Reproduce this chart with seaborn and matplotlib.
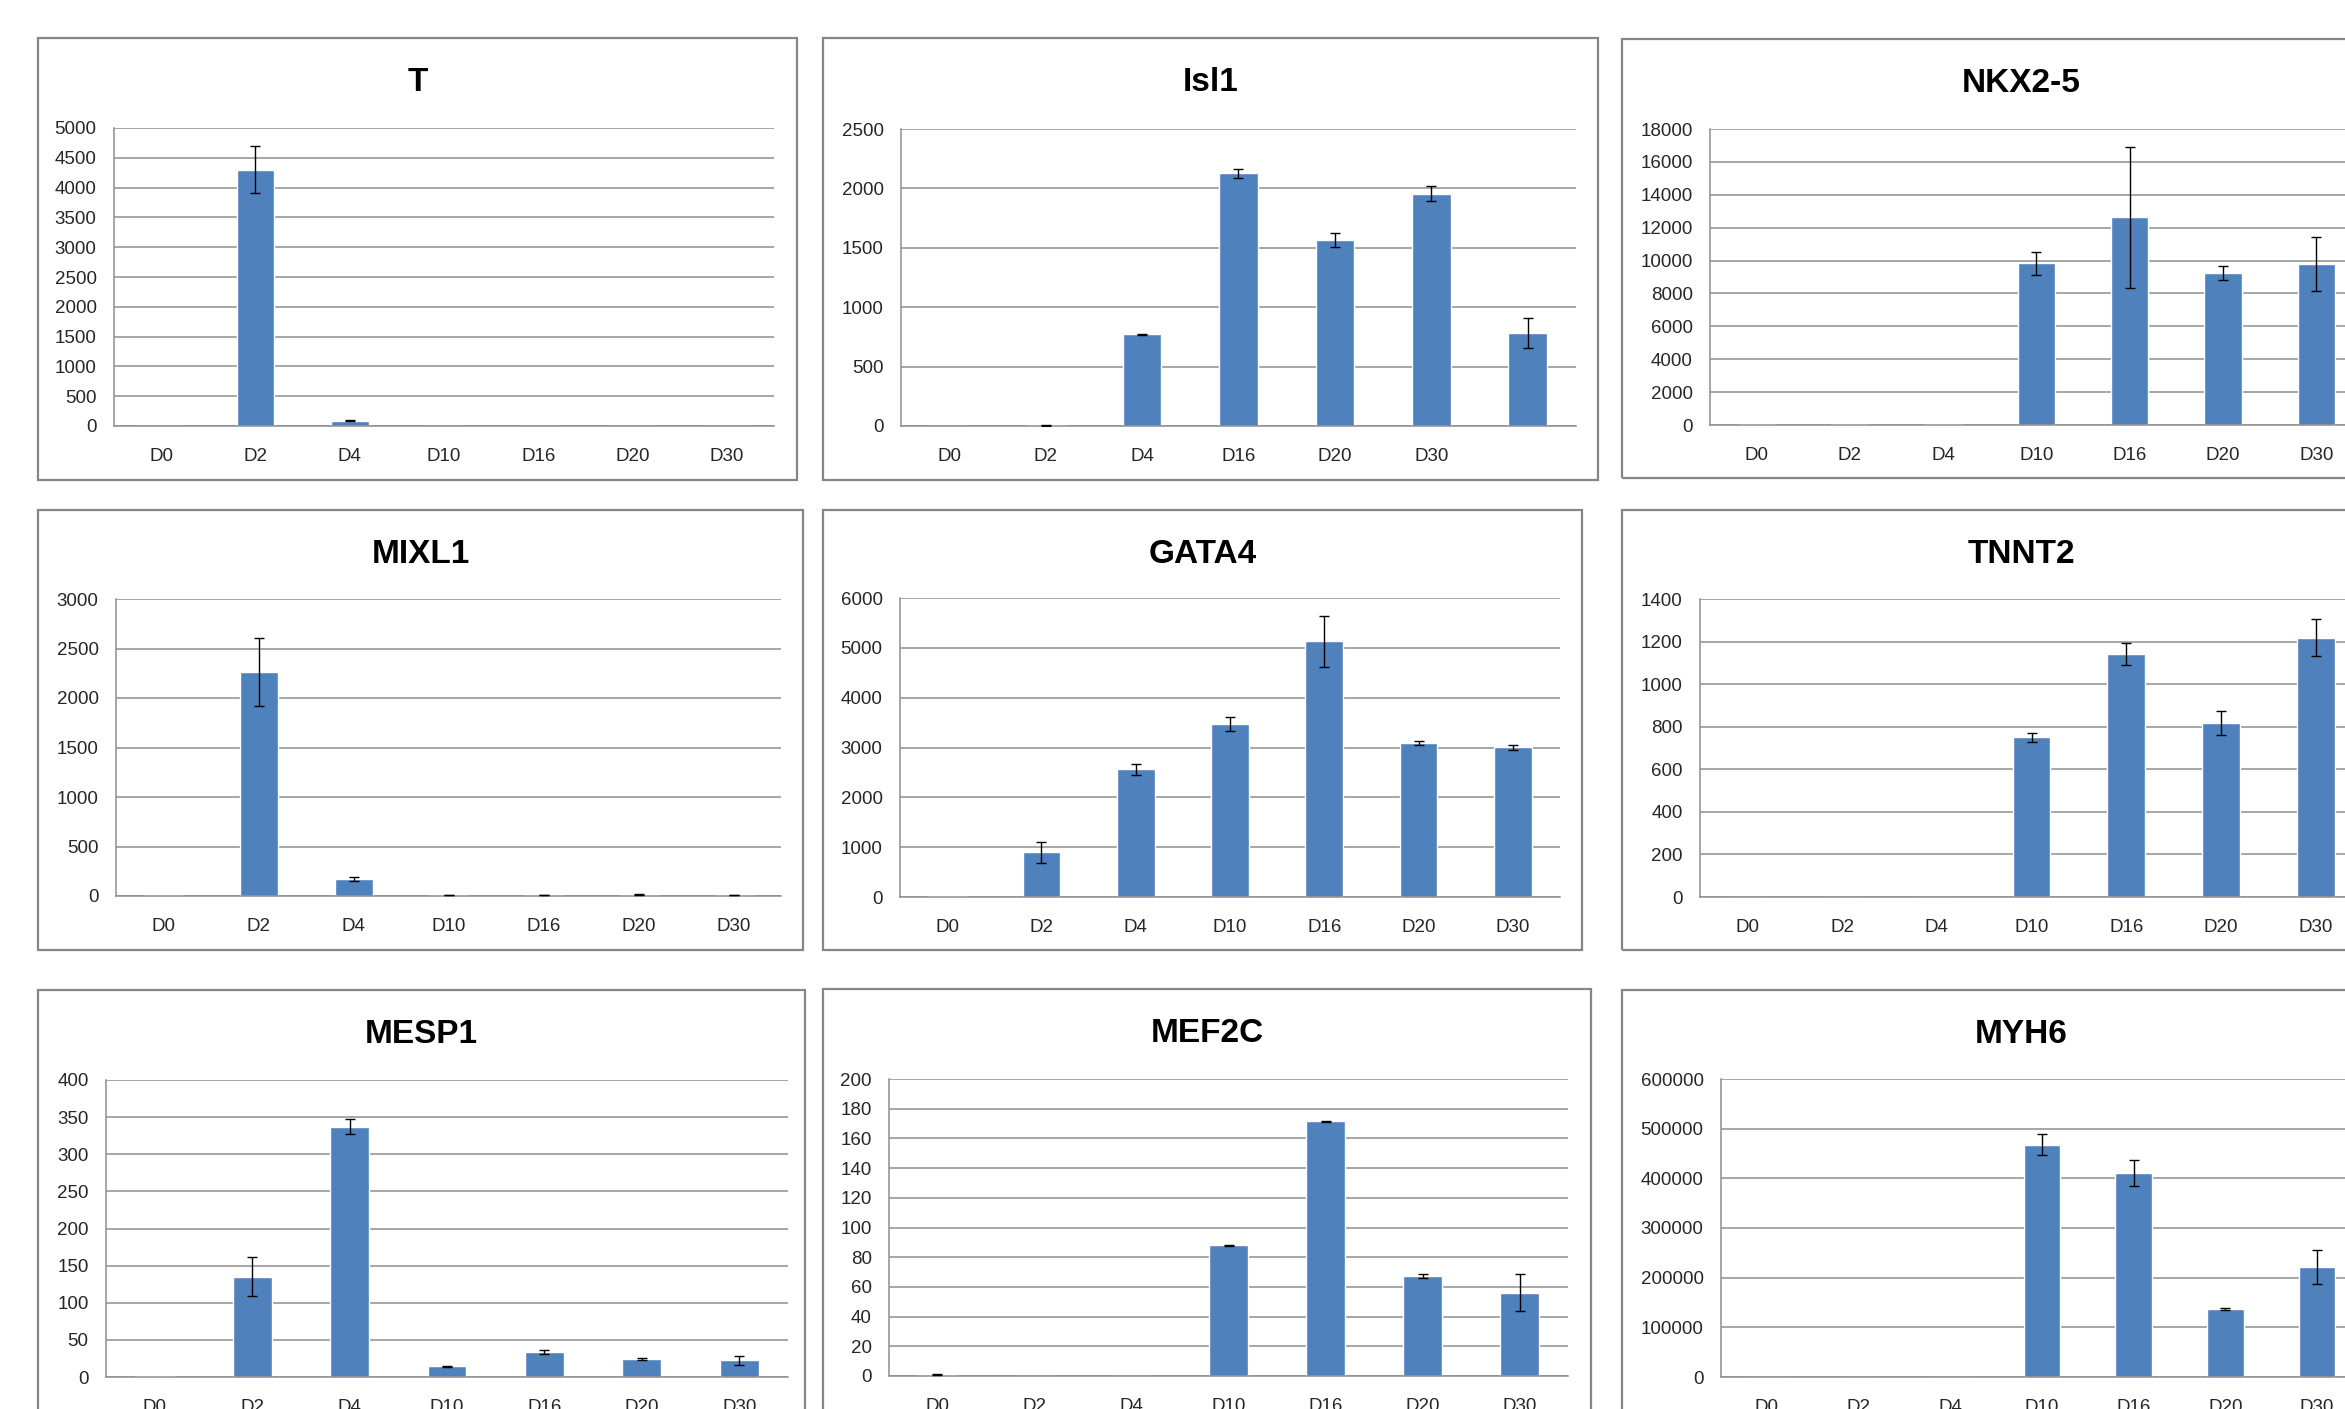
import numpy as np
import pandas as pd
import seaborn as sns
import matplotlib.pyplot as plt
from matplotlib.patches import Rectangle

# ---- data (relative expression, mean and error) ----
days = ['D0', 'D2', 'D4', 'D10', 'D16', 'D20', 'D30']
isl1_days = ['D0', 'D2', 'D4', 'D16', 'D20', 'D30', '']

t_mean = [0, 4300, 90, 0, 0, 0, 0]
t_err = [0, 390, 12, 0, 0, 0, 0]

isl1_mean = [0, 5, 773, 2126, 1567, 1957, 786]
isl1_err = [0, 3, 5, 40, 58, 62, 127]

nkx25_mean = [60, 50, 55, 9830, 12630, 9225, 9790]
nkx25_err = [0, 0, 0, 680, 4270, 435, 1670]

mixl1_mean = [10, 2265, 169, 10, 10, 12, 8]
mixl1_err = [0, 345, 18, 3, 3, 4, 2]

gata4_mean = [25, 893, 2563, 3474, 5128, 3085, 3005]
gata4_err = [0, 207, 114, 137, 503, 40, 50]

tnnt2_mean = [0, 0, 0, 750, 1143, 818, 1219]
tnnt2_err = [0, 0, 0, 21, 52, 57, 86]

mesp1_mean = [2, 135, 337, 14.4, 34, 24, 22.5]
mesp1_err = [0, 26, 10, 0.5, 3, 1.5, 6]

mef2c_mean = [1, 0, 0, 88, 171.5, 67.4, 56.2]
mef2c_err = [0.2, 0, 0, 0.3, 0.3, 1.6, 12.5]

myh6_mean = [0, 0, 0, 467600, 410000, 137000, 221000]
myh6_err = [0, 0, 0, 21500, 26000, 2500, 34000]

# ---- layout (pixels in a 2345 x 1409 canvas, origin top-left) ----
W, H = 2345, 1409
BLUE = '#4F81BD'
GRID = '#8e8e8e'
BOX = '#868686'
TXT = '#262626'

sns.set_style('white')
plt.rcParams['font.family'] = ['Liberation Sans', 'DejaVu Sans']

fig = plt.figure(figsize=(W / 100, H / 100), dpi=100, facecolor='white')

# (title, categories, mean, err, ymax, ystep, axes px box, frame px box)
panels = [
    ('T', days, t_mean, t_err, 5000, 500, (114, 128, 774, 426), (38, 38, 797, 480)),
    ('Isl1', isl1_days, isl1_mean, isl1_err, 2500, 500, (901, 129, 1576, 426), (823, 38, 1598, 480)),
    ('NKX2-5', days, nkx25_mean, nkx25_err, 18000, 2000, (1710, 129, 2363, 425), (1622, 39, 2420, 478)),
    ('MIXL1', days, mixl1_mean, mixl1_err, 3000, 500, (116, 599, 781, 896), (38, 510, 803, 950)),
    ('GATA4', days, gata4_mean, gata4_err, 6000, 1000, (900, 598, 1560, 897), (823, 510, 1582, 950)),
    ('TNNT2', days, tnnt2_mean, tnnt2_err, 1400, 200, (1700, 599, 2363, 897), (1622, 510, 2420, 950)),
    ('MESP1', days, mesp1_mean, mesp1_err, 400, 50, (106, 1080, 788, 1377), (38, 990, 805, 1432)),
    ('MEF2C', days, mef2c_mean, mef2c_err, 200, 20, (889, 1079, 1568, 1376), (823, 989, 1591, 1432)),
    ('MYH6', days, myh6_mean, myh6_err, 600000, 100000, (1721, 1079, 2363, 1377), (1622, 990, 2420, 1432)),
]

for title, cats, mean, err, ymax, ystep, apx, fpx in panels:
    # outer frame of each chart
    fx0, fy0, fx1, fy1 = fpx
    fig.add_artist(Rectangle((fx0 / W, 1 - fy1 / H), (fx1 - fx0) / W, (fy1 - fy0) / H,
                             transform=fig.transFigure, fill=False,
                             edgecolor=BOX, linewidth=1.6, zorder=0))
    fig.text((fx0 + fx1) / 2 / W, 1 - (fy0 + 53) / H, title, ha='center',
             va='baseline', fontsize=24, fontweight='bold', color='black')

    ax0, ay0, ax1, ay1 = apx
    ax = fig.add_axes([ax0 / W, 1 - ay1 / H, (ax1 - ax0) / W, (ay1 - ay0) / H])
    ax.set_facecolor('none')

    df = pd.DataFrame({'day': cats, 'value': mean})
    sns.barplot(data=df, x='day', y='value', order=cats, color=BLUE,
                saturation=1, width=0.4, errorbar=None, ax=ax, zorder=2)

    pos = np.arange(len(cats))
    e = np.asarray(err, dtype=float)
    m = np.asarray(mean, dtype=float)
    keep = e > 0
    ax.errorbar(pos[keep], m[keep], yerr=e[keep], fmt='none', ecolor='black',
                elinewidth=1.0, capsize=3.6, capthick=1.0, zorder=3)

    ax.set_xlim(-0.5, len(cats) - 0.5)
    ax.set_ylim(0, ymax)
    yt = np.arange(0, ymax + ystep / 2, ystep)
    ax.set_yticks(yt)
    ax.set_yticklabels([f'{int(v)}' for v in yt])
    ax.set_xlabel('')
    ax.set_ylabel('')

    ax.yaxis.grid(True, color=GRID, linewidth=1.1)
    ax.set_axisbelow(True)
    for s in ['top', 'right']:
        ax.spines[s].set_visible(False)
    for s in ['left', 'bottom']:
        ax.spines[s].set_color(GRID)
        ax.spines[s].set_linewidth(1.1)

    ax.set_xticks(np.arange(-0.5, len(cats)), minor=True)
    ax.tick_params(axis='x', which='major', length=0, pad=16,
                   labelsize=13.5, labelcolor=TXT)
    ax.tick_params(axis='x', which='minor', length=5, width=1.1,
                   color=GRID, direction='out')
    ax.tick_params(axis='y', length=5.5, width=1.1, color=GRID, pad=7,
                   labelsize=13.5, labelcolor=TXT)

fig.savefig('out.png', dpi=100, facecolor='white')
